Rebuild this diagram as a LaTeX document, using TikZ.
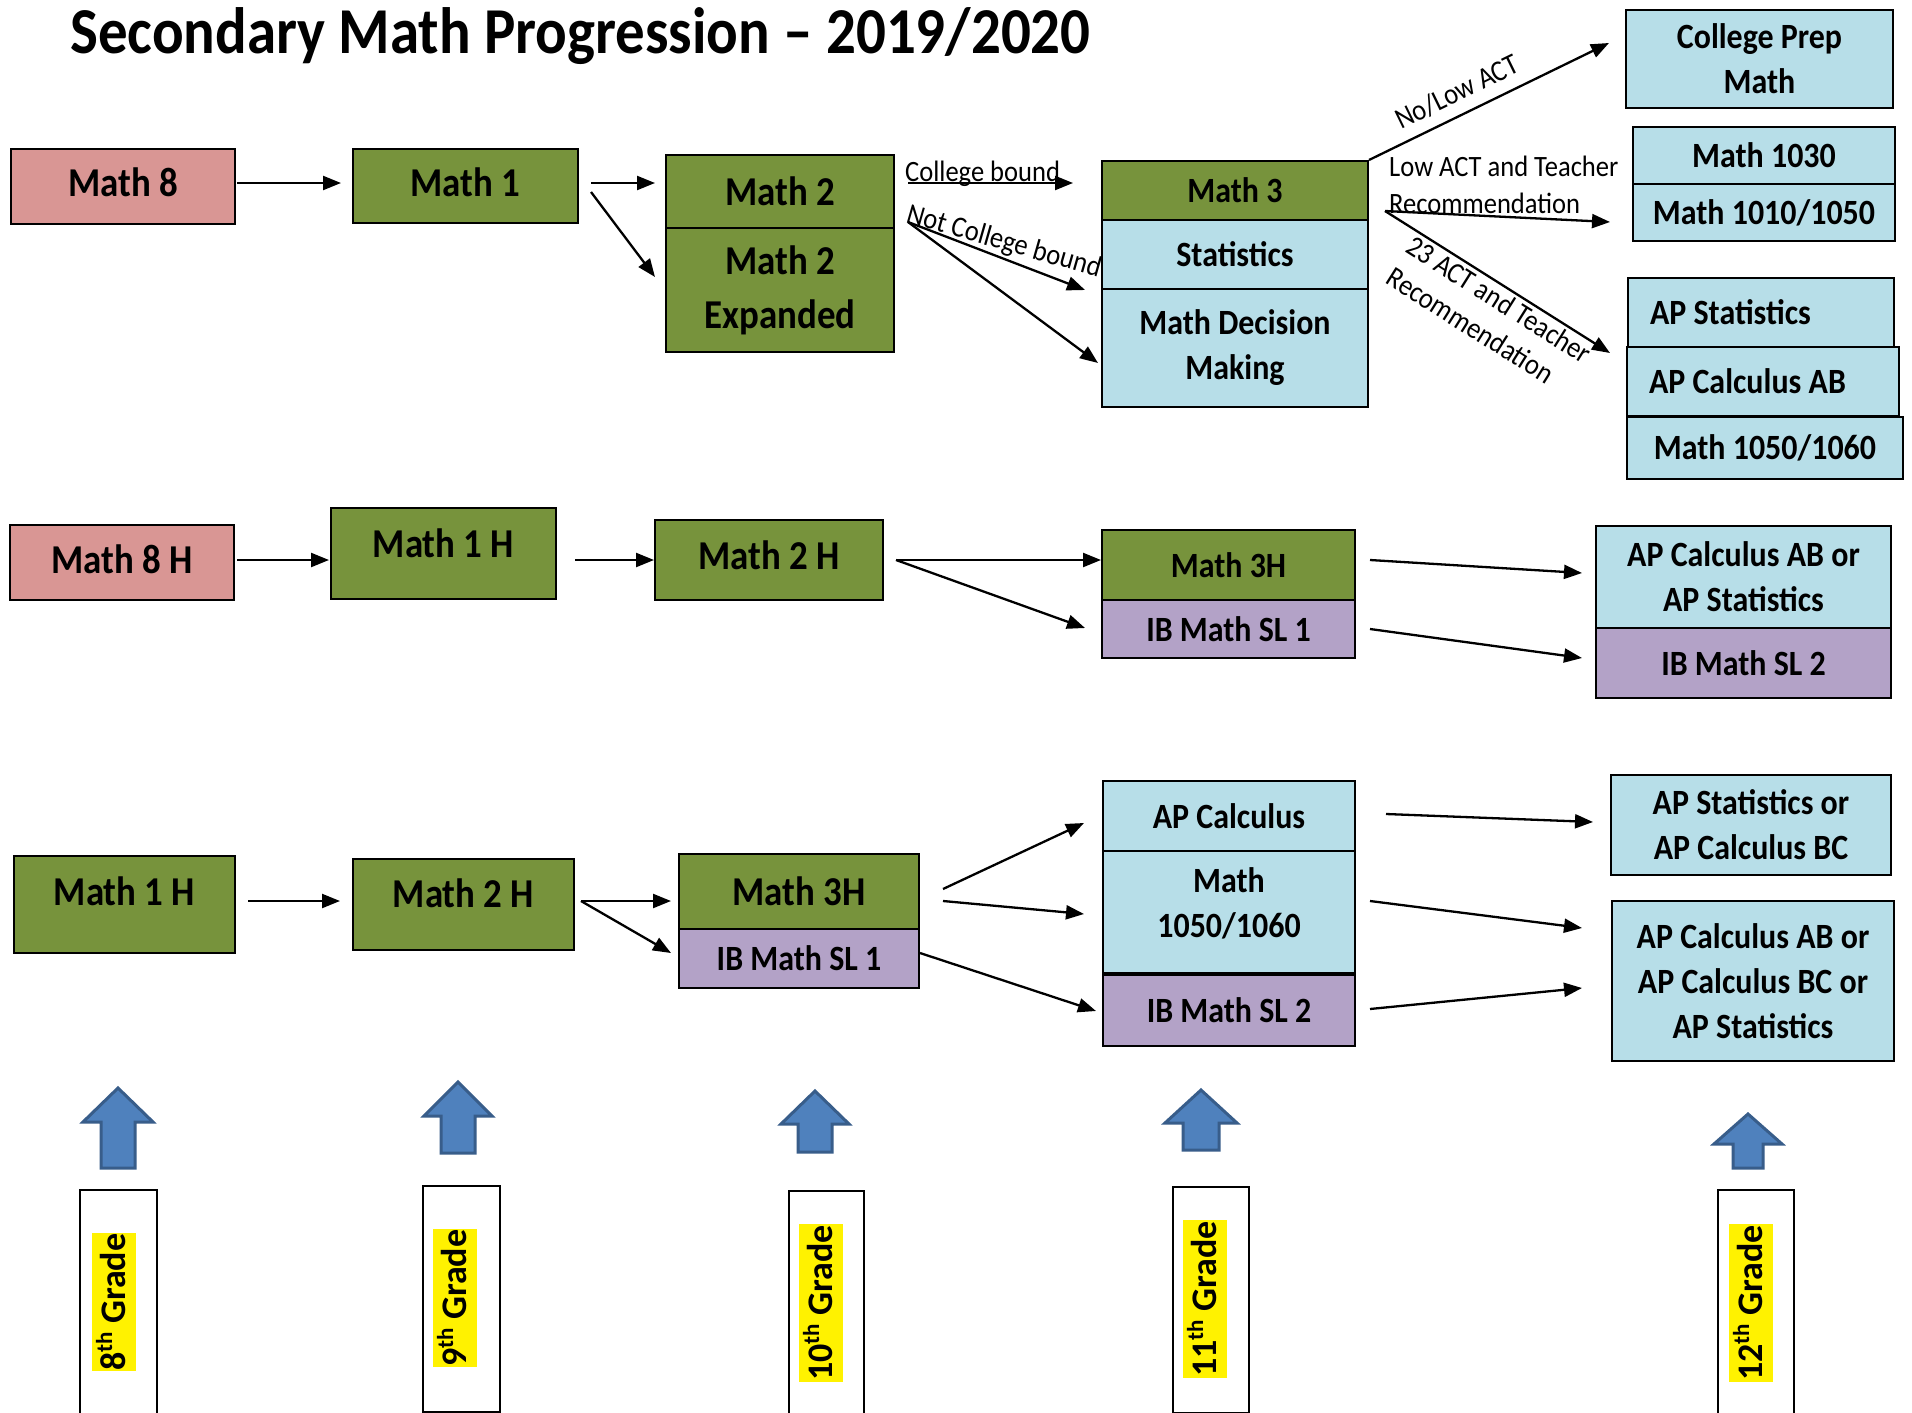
\documentclass[tikz,border=0pt]{standalone}
\usepackage{fontspec}
\setmainfont{Carlito}[FakeStretch=0.9]
\newfontfamily\gradefont{Carlito}
\usetikzlibrary{arrows.meta,calc}
\definecolor{pinkc}{HTML}{D99694}
\definecolor{greenc}{HTML}{77933C}
\definecolor{bluec}{HTML}{B7DEE8}
\definecolor{purplec}{HTML}{B3A2C7}
\definecolor{arrfill}{HTML}{4F81BD}
\definecolor{arrline}{HTML}{385D8A}
\newcommand\bx[7]{\node[#6,anchor=north west,minimum width={(#4-#2)*1pt},minimum height={(#5-#3)*1pt}] (#1) at (#2,#3) {#7};}
\newcommand\upby[2]{\raisebox{0pt}[\height][\dimexpr\depth+#1\relax]{#2}}
\newcommand\uparr[6]{\draw[blockarr] (#1,#2) -- ({#1+#5},#3) -- ({#1+#6},#3) -- ({#1+#6},#4) -- ({#1-#6},#4) -- ({#1-#6},#3) -- ({#1-#5},#3) -- cycle;}
\newcommand\sups[1]{\raisebox{0.36em}{\fontsize{23}{23}\selectfont #1}}
\begin{document}
\begin{tikzpicture}[x=1pt,y=-1pt,
  box/.style={draw=black,line width=2pt,inner sep=0pt,align=center,font=\bfseries\fontsize{35.5}{45}\selectfont},
  bigt/.style={font=\bfseries\fontsize{41}{54}\selectfont},
  pk/.style={fill=pinkc}, gr/.style={fill=greenc}, bl/.style={fill=bluec}, pu/.style={fill=purplec},
  arr/.style={line width=2.3pt,-{Triangle[length=18pt,width=14pt]}},
  lbl/.style={font=\fontsize{29.5}{37}\selectfont,inner sep=0pt},
  grade/.style={draw=black,line width=1.6pt,fill=white},
  gradet/.style={fill=yellow,rotate=90,inner xsep=1pt,inner ysep=0pt,text height=33pt,text depth=11pt,font=\gradefont\bfseries\fontsize{36}{44}\selectfont},
  blockarr/.style={fill=arrfill,draw=arrline,line width=3pt,line join=miter}]
\fill[white] (0,0) rectangle (1912,1413);
\useasboundingbox (0,0) rectangle (1912,1413);

\node[anchor=base west,inner sep=0pt,font=\bfseries\fontsize{65.5}{70}\selectfont] (title) at (70,54) {Secondary Math Progression \textendash{} 2019/2020};

% Row 1
\bx{m8}{10}{148}{234}{223}{box,bigt,pk}{\upby{8pt}{Math 8}}
\bx{m1}{352}{148}{577}{222}{box,bigt,gr}{\upby{8pt}{Math 1}}
\bx{m2}{665}{154}{893}{227}{box,bigt,gr}{Math 2}
\bx{m2e}{665}{227}{893}{351}{box,bigt,gr}{Math 2\\Expanded}
\bx{m3}{1101}{160}{1367}{219}{box,gr}{Math 3}
\bx{stat}{1101}{219}{1367}{288}{box,bl}{Statistics}
\bx{mdm}{1101}{288}{1367}{406}{box,bl}{Math Decision\\Making}
\bx{cpm}{1625}{9}{1892}{107}{box,bl}{College Prep\\Math}
\bx{m1030}{1632}{126}{1894}{183}{box,bl}{Math 1030}
\bx{m1010}{1632}{183}{1894}{240}{box,bl}{Math 1010/1050}
\bx{aps}{1627}{277}{1893}{346}{box,bl,align=flush left,text width=222pt,inner xsep=22pt}{AP Statistics}
\bx{apab}{1626}{346}{1898}{415}{box,bl,align=flush left,text width=228pt,inner xsep=22pt}{AP Calculus AB}
\bx{m1050a}{1626}{416}{1902}{478}{box,bl}{Math 1050/1060}

% Row 2
\bx{m8h}{9}{524}{233}{599}{box,bigt,pk}{\upby{6pt}{Math 8 H}}
\bx{m1h}{330}{507}{555}{598}{box,bigt,gr}{\upby{20pt}{Math 1 H}}
\bx{m2h}{654}{519}{882}{599}{box,bigt,gr}{\upby{10pt}{Math 2 H}}
\bx{m3h}{1101}{529}{1354}{599}{box,gr}{Math 3H}
\bx{ibsl1}{1101}{599}{1354}{657}{box,pu}{IB Math SL 1}
\bx{apabst}{1595}{525}{1890}{627}{box,bl}{AP Calculus AB or\\AP Statistics}
\bx{ibsl2b}{1595}{627}{1890}{697}{box,pu}{IB Math SL 2}

% Row 3
\bx{m1hc}{13}{855}{234}{952}{box,bigt,gr}{\upby{26pt}{Math 1 H}}
\bx{m2hc}{352}{858}{573}{949}{box,bigt,gr}{\upby{22pt}{Math 2 H}}
\bx{m3hc}{678}{853}{918}{928}{box,bigt,gr}{Math 3H}
\bx{ibsl1c}{678}{928}{918}{987}{box,pu}{IB Math SL 1}
\bx{apc}{1102}{780}{1354}{850}{box,bl}{AP Calculus}
\bx{m1050b}{1102}{850}{1354}{972}{box,bl,text depth=18pt}{Math\\1050/1060}
\bx{ibsl2c}{1102}{974}{1354}{1045}{box,pu}{IB Math SL 2}
\bx{apstbc}{1610}{774}{1890}{874}{box,bl}{AP Statistics or\\AP Calculus BC}
\bx{apabbc}{1611}{900}{1893}{1060}{box,bl}{AP Calculus AB or\\AP Calculus BC or\\AP Statistics}

% Labels
\node[lbl,anchor=base west] (lcb) at (905,181) {College bound};
\node[lbl,anchor=base west,rotate=-16] (lncb) at (905,222) {Not College bound};
\node[lbl,rotate=26] (lnolow) at (1457,92) {No/Low ACT};
\node[lbl,anchor=north west,align=left] (llow) at (1389,156) {Low ACT and Teacher\\Recommendation};
\node[lbl,anchor=north west,align=left,rotate=-32.2] (l23) at (1415,234) {23 ACT and Teacher\\Recommendation};

% Row 1 connectors
\draw[arr] ($(m8.east)+(1,-3.5)$) -- ($(m1.west)+(-11,-3)$);
\draw[arr] ($(m1.east)+(12,-3)$) -- ($(m2.west)+(-10,-8.5)$);
\draw[arr] ($(m1.east)+(12,6)$) -- ($(m2e.west)+(-10,-13)$);
\draw[arr] ($(m2.east)+(13,-8.5)$) -- ($(m3.west)+(-28,-7.5)$);
\draw[arr] ($(m2e.north east)+(13,-5)$) -- ($(stat.south west)+(-16,0)$);
\draw[arr] ($(m2e.north east)+(13,-5)$) -- ($(mdm.west)+(-3,15)$);
\draw[arr] (m3.north east) -- ($(cpm.west)+(-16,-16)$);
\draw[arr] ($(m3.south east)+(16,-10)$) -- ($(m1010.west)+(-22,9.5)$);
\draw[arr] ($(m3.south east)+(16,-10)$) -- ($(aps.south west)+(-17,5)$);

% Row 2 connectors
\draw[arr] ($(m8h.east)+(2,-2.5)$) -- ($(m1h.west)+(-1,6.5)$);
\draw[arr] ($(m1h.east)+(18,6.5)$) -- (m2h.west);
\draw[arr] ($(m2h.east)+(12,0)$) -- ($(m3h.west)+(0,-5)$);
\draw[arr] ($(m2h.east)+(12,0)$) -- ($(ibsl1.west)+(-16,-1)$);
\draw[arr] ($(m3h.east)+(14,-5)$) -- ($(apabst.west)+(-13,-4)$);
\draw[arr] ($(ibsl1.east)+(14,0)$) -- ($(ibsl2b.west)+(-13,-5)$);

% Row 3 connectors
\draw[arr] ($(m1hc.east)+(12,-3.5)$) -- ($(m2hc.west)+(-12,-3.5)$);
\draw[arr] ($(m2hc.east)+(6,-3.5)$) -- ($(m3hc.west)+(-7,9.5)$);
\draw[arr] ($(m2hc.east)+(6,-3.5)$) -- ($(ibsl1c.west)+(-7,-5.5)$);
\draw[arr] ($(m3hc.east)+(23,-2.5)$) -- ($(apc.west)+(-18,7)$);
\draw[arr] ($(m3hc.east)+(23,9.5)$) -- ($(m1050b.west)+(-18,2)$);
\draw[arr] ($(ibsl1c.east)+(0,-5.5)$) -- ($(ibsl2c.west)+(-6,0.5)$);
\draw[arr] ($(apc.east)+(30,-2)$) -- ($(apstbc.west)+(-17,-3)$);
\draw[arr] ($(m1050b.east)+(14,-11)$) -- ($(apabbc.west)+(-29,-53)$);
\draw[arr] ($(ibsl2c.east)+(14,-1.5)$) -- ($(apabbc.west)+(-29,7)$);

% Grade markers
\uparr{118}{1088}{1122}{1168}{35}{17}
\uparr{458}{1082}{1116}{1153}{34}{17}
\uparr{815}{1091}{1124}{1152}{34}{17}
\uparr{1201}{1090}{1123}{1150}{36}{18}
\uparr{1748}{1114}{1144}{1168}{34}{15}

\bx{g8}{79}{1189}{156}{1430}{grade}{}
\bx{g9}{422}{1185}{499}{1411}{grade}{}
\bx{g10}{788}{1190}{863}{1430}{grade}{}
\bx{g11}{1172}{1186}{1248}{1412}{grade}{}
\bx{g12}{1717}{1189}{1793}{1430}{grade}{}
\node[gradet] (g8t) at (114,1302) {8\sups{th} Grade};
\node[gradet] (g9t) at (455,1298) {9\sups{th} Grade};
\node[gradet] (g10t) at (821,1303) {10\sups{th} Grade};
\node[gradet] (g11t) at (1205,1299) {11\sups{th} Grade};
\node[gradet] (g12t) at (1751,1303) {12\sups{th} Grade};
\end{tikzpicture}
\end{document}
